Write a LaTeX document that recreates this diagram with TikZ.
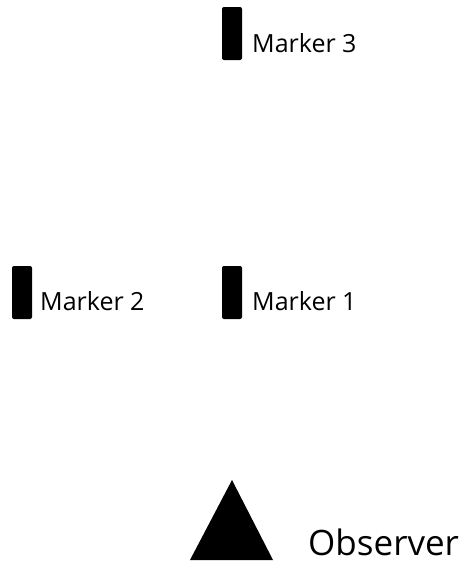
\documentclass[tikz,border=0pt]{standalone}
\usepackage{fontspec}
\setmainfont{Open Sans}
\begin{document}
\begin{tikzpicture}[x=1pt,y=-1pt,
  marker/.style={fill=black, draw=none, rounded corners=2pt, minimum width=20pt, minimum height=53pt, inner sep=0pt},
  lbl/.style={anchor=base west, inner sep=0pt, font=\fontsize{25}{30}\selectfont},
  biglbl/.style={anchor=base west, inner sep=0pt, font=\fontsize{35}{42}\selectfont}]
\useasboundingbox (0,0) rectangle (466,565);
% markers
\node[marker] (m3) at (232,33.5) {};
\node[marker] (m2) at (22,292.5) {};
\node[marker] (m1) at (232,292.5) {};
\node[lbl] (t3) at (252,52) {Marker 3};
\node[lbl] (t2) at (40,310) {Marker 2};
\node[lbl] (t1) at (252,310) {Marker 1};
% observer
\coordinate (apex) at (232,480);
\coordinate (bl) at (190,560);
\coordinate (br) at (273,560);
\fill[black] (apex) -- (br) -- (bl) -- cycle;
\node[biglbl] (obs) at (308,555) {Observer};
\end{tikzpicture}
\end{document}
